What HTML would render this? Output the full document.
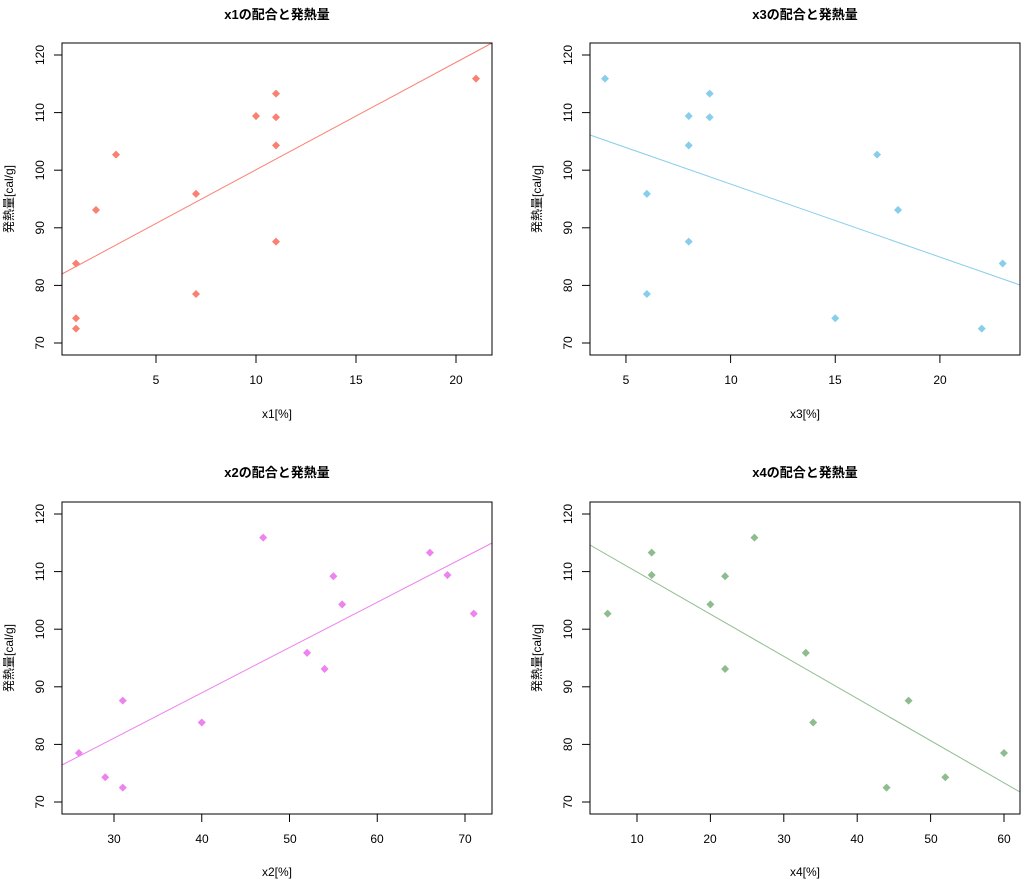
<!DOCTYPE html>
<html><head><meta charset="utf-8"><style>
html,body{margin:0;padding:0;background:#fff;}
svg{display:block;font-family:"Liberation Sans","Noto Sans CJK JP",sans-serif;}
.t{font-size:13px;font-weight:bold;text-anchor:middle;}
.l{font-size:12px;text-anchor:middle;fill:#000;}
</style></head><body>
<svg id="s" width="1026" height="885" viewBox="0 0 1026 885">
<rect width="1026" height="885" fill="#fff"/>
<g id="g"></g>
<text class="t" x="277" y="19">x1の配合と発熱量</text>
<text class="t" x="805" y="19">x3の配合と発熱量</text>
<text class="t" x="277" y="477">x2の配合と発熱量</text>
<text class="t" x="805" y="477">x4の配合と発熱量</text>
<text class="l" x="277" y="418">x1[%]</text>
<text class="l" x="805" y="418">x3[%]</text>
<text class="l" x="277" y="876">x2[%]</text>
<text class="l" x="805" y="876">x4[%]</text>
<text class="l" transform="translate(13,199) rotate(-90)">発熱量[cal/g]</text>
<text class="l" transform="translate(541,199) rotate(-90)">発熱量[cal/g]</text>
<text class="l" transform="translate(13,658) rotate(-90)">発熱量[cal/g]</text>
<text class="l" transform="translate(541,658) rotate(-90)">発熱量[cal/g]</text>
<g class="l">
<text transform="translate(44,55) rotate(-90)">120</text>
<text transform="translate(44,112.6) rotate(-90)">110</text>
<text transform="translate(44,170.2) rotate(-90)">100</text>
<text transform="translate(44,227.8) rotate(-90)">90</text>
<text transform="translate(44,285.4) rotate(-90)">80</text>
<text transform="translate(44,343) rotate(-90)">70</text>
<text transform="translate(572,55) rotate(-90)">120</text>
<text transform="translate(572,112.6) rotate(-90)">110</text>
<text transform="translate(572,170.2) rotate(-90)">100</text>
<text transform="translate(572,227.8) rotate(-90)">90</text>
<text transform="translate(572,285.4) rotate(-90)">80</text>
<text transform="translate(572,343) rotate(-90)">70</text>
<text transform="translate(44,514) rotate(-90)">120</text>
<text transform="translate(44,571.6) rotate(-90)">110</text>
<text transform="translate(44,629.2) rotate(-90)">100</text>
<text transform="translate(44,686.8) rotate(-90)">90</text>
<text transform="translate(44,744.4) rotate(-90)">80</text>
<text transform="translate(44,802) rotate(-90)">70</text>
<text transform="translate(572,514) rotate(-90)">120</text>
<text transform="translate(572,571.6) rotate(-90)">110</text>
<text transform="translate(572,629.2) rotate(-90)">100</text>
<text transform="translate(572,686.8) rotate(-90)">90</text>
<text transform="translate(572,744.4) rotate(-90)">80</text>
<text transform="translate(572,802) rotate(-90)">70</text>
</g>
<g class="l">
<text x="156" y="384">5</text><text x="256" y="384">10</text><text x="356" y="384">15</text><text x="456" y="384">20</text>
<text x="626" y="384">5</text><text x="731" y="384">10</text><text x="835" y="384">15</text><text x="940" y="384">20</text>
<text x="114" y="843">30</text><text x="202" y="843">40</text><text x="290" y="843">50</text><text x="377" y="843">60</text><text x="465" y="843">70</text>
<text x="637" y="843">10</text><text x="710" y="843">20</text><text x="784" y="843">30</text><text x="857" y="843">40</text><text x="931" y="843">50</text><text x="1004" y="843">60</text>
</g>
</svg>
<script>
var y=[78.5,74.3,104.3,87.6,95.9,109.2,102.7,72.5,93.1,115.9,83.8,113.3,109.4];
var P=[
 {x:[7,1,11,11,7,11,3,1,2,21,1,11,10],bx:62,by:43,x0:56,sx:20,c:"#FA8072",xt:[5,10,15,20],ln:[62,274,492,43]},
 {x:[6,15,8,8,6,9,17,22,18,4,23,9,8],bx:590,by:43,x0:521.3,sx:20.93,c:"#87CEEB",xt:[5,10,15,20],ln:[590,135,1020,285]},
 {x:[26,29,56,31,52,55,71,31,54,47,40,66,68],bx:62,by:502,x0:-149.25,sx:8.775,c:"#EE82EE",xt:[30,40,50,60,70],ln:[62,765,492,543]},
 {x:[60,52,20,47,33,22,6,44,22,26,34,12,12],bx:590,by:502,x0:563.6,sx:7.34,c:"#8FBC8F",xt:[10,20,30,40,50,60],ln:[590,545,1020,792]}
];
var h="";
P.forEach(function(p){
 var oy=p.by-43;
 function py(v){return 55+oy+(120-v)*5.76;}
 h+='<line x1="'+p.ln[0]+'" y1="'+p.ln[1]+'" x2="'+p.ln[2]+'" y2="'+p.ln[3]+'" stroke="'+p.c+'" stroke-width="1"/>';
 h+='<rect x="'+p.bx+'" y="'+p.by+'" width="430" height="312" fill="none" stroke="#000" stroke-width="1"/>';
 [120,110,100,90,80,70].forEach(function(v){var yy=py(v);h+='<line x1="'+(p.bx-8)+'" x2="'+p.bx+'" y1="'+yy+'" y2="'+yy+'" stroke="#000"/>';});
 var yb=p.by+312;
 p.xt.forEach(function(v){var xx=p.x0+v*p.sx;h+='<line x1="'+xx+'" x2="'+xx+'" y1="'+yb+'" y2="'+(yb+8)+'" stroke="#000"/>';});
 p.x.forEach(function(v,i){var cx=p.x0+v*p.sx,cy=py(y[i]);
  h+='<polygon points="'+cx+','+(cy-3.3)+' '+(cx+3.3)+','+cy+' '+cx+','+(cy+3.3)+' '+(cx-3.3)+','+cy+'" fill="'+p.c+'" stroke="'+p.c+'" stroke-width="1"/>';});
});
document.getElementById("g").innerHTML=h;
</script>
</body></html>
